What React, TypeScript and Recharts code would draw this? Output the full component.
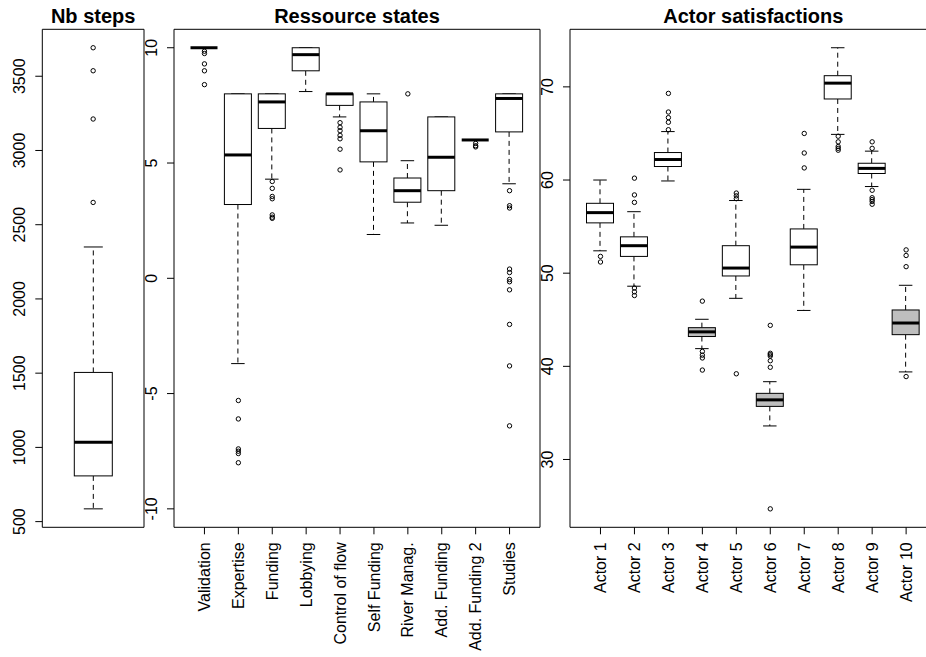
import React from "react";
import { Bar, ComposedChart, Scatter, XAxis, YAxis } from "recharts";

const FONT = '"Liberation Sans", Arial, Helvetica, sans-serif';
const HEIGHT = 657;
const PLOT_TOP = 29.3;
const X_AXIS_HEIGHT = 120;
const BOTTOM_MARGIN = 9.7;
const FRAME = 1; // size of the hidden top/right axes that draw the plot frame

// ---- Nb steps ----
const stepLabels = ["Nb steps"];
const stepLow = [586];
const stepQ1 = [808];
const stepMed = [1034];
const stepQ3 = [1505];
const stepHigh = [2350];
const stepOutliers = [[2650, 3212, 3537, 3692]];
const stepTicks = [500, 1000, 1500, 2000, 2500, 3000, 3500];

// ---- Ressource states ----
const resLabels = [
  "Validation",
  "Expertise",
  "Funding",
  "Lobbying",
  "Control of flow",
  "Self Funding",
  "River Manag.",
  "Add. Funding",
  "Add. Funding 2",
  "Studies",
];
const resLow = [10, -3.7, 4.3, 8.1, 7.0, 1.9, 2.4, 2.3, 6.0, 4.1];
const resQ1 = [10, 3.2, 6.5, 9.0, 7.5, 5.05, 3.3, 3.8, 6.0, 6.35];
const resMed = [10, 5.35, 7.65, 9.7, 8.0, 6.4, 3.8, 5.25, 6.0, 7.8];
const resQ3 = [10, 8.0, 8.0, 10, 8.0, 7.65, 4.35, 7.0, 6.0, 8.0];
const resHigh = [10, 8.0, 8.0, 10, 8.0, 8.0, 5.1, 7.0, 6.0, 8.0];
const resOutliers = [
  [9.85, 9.75, 9.3, 9.0, 8.4],
  [-5.3, -6.1, -7.4, -7.5, -7.6, -8.0],
  [4.2, 3.9, 3.55, 3.45, 2.75, 2.65, 2.6],
  [],
  [6.75, 6.55, 6.4, 6.2, 6.05, 5.6, 4.7],
  [],
  [8.0],
  [],
  [5.85, 5.75, 5.7],
  [3.8, 3.15, 3.05, 0.4, 0.25, -0.05, -0.15, -0.5, -2.0, -3.8, -6.4],
];
const resLimits = [-10, 10];
const resTicks = [-10, -5, 0, 5, 10];

// ---- Actor satisfactions ----
const actorLabels = [
  "Actor 1",
  "Actor 2",
  "Actor 3",
  "Actor 4",
  "Actor 5",
  "Actor 6",
  "Actor 7",
  "Actor 8",
  "Actor 9",
  "Actor 10",
];
const actLow = [52.4, 48.6, 59.9, 41.9, 47.3, 33.6, 46.0, 64.9, 59.3, 39.4];
const actQ1 = [55.4, 51.8, 61.45, 43.2, 49.7, 35.7, 50.9, 68.7, 60.7, 43.4];
const actMed = [56.5, 52.95, 62.2, 43.7, 50.55, 36.4, 52.8, 70.4, 61.25, 44.65];
const actQ3 = [57.5, 53.9, 62.95, 44.15, 52.95, 37.1, 54.75, 71.2, 61.8, 46.05];
const actHigh = [60.0, 56.6, 65.2, 45.05, 57.8, 38.35, 59.0, 74.2, 63.1, 48.7];
const actOutliers = [
  [51.8, 51.2],
  [60.2, 58.4, 57.6, 48.4, 48.0, 47.6],
  [69.3, 67.3, 66.7, 66.2, 65.4],
  [47.0, 41.6, 41.2, 40.9, 39.6],
  [58.6, 58.3, 58.0, 39.2],
  [44.4, 41.4, 41.25, 41.1, 40.6, 39.9, 24.7],
  [65.0, 62.9, 61.3],
  [64.7, 64.1, 63.6, 63.4, 63.2],
  [64.1, 63.4, 58.9, 58.1, 57.9, 57.7, 57.4],
  [52.5, 51.9, 50.7, 38.9],
];
const actTicks = [30, 40, 50, 60, 70];

// grey boxes in the actor panel
const shadedActors = ["Actor 4", "Actor 6", "Actor 10"];

type Row = {
  name: string;
  low: number;
  q1: number;
  med: number;
  q3: number;
  high: number;
  min: number;
  max: number;
};

function buildRows(
  labels: string[],
  low: number[],
  q1: number[],
  med: number[],
  q3: number[],
  high: number[],
  outliers: number[][]
): Row[] {
  return labels.map((name, i) => ({
    name,
    low: low[i],
    q1: q1[i],
    med: med[i],
    q3: q3[i],
    high: high[i],
    min: Math.min(low[i], ...outliers[i]),
    max: Math.max(high[i], ...outliers[i]),
  }));
}

function buildOutliers(labels: string[], outliers: number[][]) {
  return labels.flatMap((name, i) => outliers[i].map((v) => ({ name, v })));
}

// R's default 4% axis extension
function padRange(lo: number, hi: number): [number, number] {
  const d = (hi - lo) * 0.04;
  return [lo - d, hi + d];
}

function BoxShape(props: any) {
  const { x, y, width, height, payload, fill } = props;
  const span = payload.max - payload.min || 1;
  const py = (v: number) => y + ((payload.max - v) / span) * height;
  const cx = x + width / 2;
  const cap = width / 4;
  const top = py(payload.q3);
  const bottom = py(payload.q1);
  const hi = py(payload.high);
  const lo = py(payload.low);
  const md = py(payload.med);
  return (
    <g>
      <line x1={cx} x2={cx} y1={top} y2={hi} stroke="#000" strokeDasharray="5 4" />
      <line x1={cx} x2={cx} y1={bottom} y2={lo} stroke="#000" strokeDasharray="5 4" />
      <line x1={cx - cap} x2={cx + cap} y1={hi} y2={hi} stroke="#000" />
      <line x1={cx - cap} x2={cx + cap} y1={lo} y2={lo} stroke="#000" />
      <rect x={x} y={top} width={width} height={bottom - top} fill={fill} stroke="#000" />
      <line x1={x} x2={x + width} y1={md} y2={md} stroke="#000" strokeWidth={3} />
    </g>
  );
}

function YTick(props: any) {
  const { x, y, payload } = props;
  return (
    <text
      x={x}
      y={y}
      transform={`rotate(-90 ${x} ${y})`}
      textAnchor="middle"
      fontSize={16}
      fontFamily={FONT}
      fill="#000"
    >
      {payload.value}
    </text>
  );
}

function XTick(props: any) {
  const { x, y, payload } = props;
  return (
    <text
      x={x}
      y={y}
      dy="0.35em"
      transform={`rotate(-90 ${x} ${y})`}
      textAnchor="end"
      fontSize={16}
      fontFamily={FONT}
      fill="#000"
    >
      {payload.value}
    </text>
  );
}

type PanelProps = {
  title: string;
  left: number;
  width: number;
  axisWidth: number;
  rightMargin: number;
  pad: number;
  boxWidth: number;
  rows: Row[];
  outliers: { name: string; v: number }[];
  domain: [number, number];
  ticks: number[];
  showXTicks: boolean;
  shaded?: string[];
};

function Panel(p: PanelProps) {
  const plotWidth = p.width - p.axisWidth - p.rightMargin;
  const center = p.left + p.axisWidth + plotWidth / 2;
  return (
    <>
      <div
        style={{
          position: "absolute",
          left: center - 150,
          top: 5.8,
          width: 300,
          textAlign: "center",
          fontFamily: FONT,
          fontWeight: "bold",
          fontSize: 20,
          lineHeight: "20px",
          color: "#000",
        }}
      >
        {p.title}
      </div>
      <div style={{ position: "absolute", left: p.left, top: 0 }}>
        <ComposedChart
          width={p.width}
          height={HEIGHT}
          data={p.rows}
          margin={{
            top: PLOT_TOP - FRAME,
            right: p.rightMargin - FRAME,
            bottom: BOTTOM_MARGIN,
            left: 0,
          }}
        >
          <XAxis
            dataKey="name"
            type="category"
            allowDuplicatedCategory={false}
            height={X_AXIS_HEIGHT}
            padding={{ left: p.pad, right: p.pad }}
            interval={0}
            axisLine={{ stroke: "#000" }}
            tickLine={p.showXTicks ? { stroke: "#000" } : false}
            tickSize={7}
            tickMargin={8}
            tick={p.showXTicks ? XTick : false}
          />
          <XAxis
            xAxisId="top"
            orientation="top"
            dataKey="name"
            type="category"
            allowDuplicatedCategory={false}
            height={FRAME}
            axisLine={{ stroke: "#000" }}
            tickLine={false}
            tick={false}
          />
          <YAxis
            type="number"
            width={p.axisWidth}
            domain={p.domain}
            ticks={p.ticks}
            interval={0}
            axisLine={{ stroke: "#000" }}
            tickLine={{ stroke: "#000" }}
            tickSize={7}
            tickMargin={10}
            tick={YTick}
          />
          <YAxis
            yAxisId="right"
            orientation="right"
            type="number"
            width={FRAME}
            domain={p.domain}
            axisLine={{ stroke: "#000" }}
            tickLine={false}
            tick={false}
          />
          <Bar
            dataKey={(d: Row) => [d.min, d.max]}
            barSize={p.boxWidth}
            isAnimationActive={false}
            shape={(props: any) => (
              <BoxShape
                {...props}
                fill={p.shaded && p.shaded.includes(props.payload.name) ? "#bebebe" : "#fff"}
              />
            )}
          />
          <Scatter
            data={p.outliers}
            dataKey="v"
            isAnimationActive={false}
            shape={(props: any) => (
              <circle cx={props.cx} cy={props.cy} r={2.2} fill="none" stroke="#000" strokeWidth={1} />
            )}
          />
        </ComposedChart>
      </div>
    </>
  );
}

export default function App() {
  const stepRows = buildRows(stepLabels, stepLow, stepQ1, stepMed, stepQ3, stepHigh, stepOutliers);
  const resRows = buildRows(resLabels, resLow, resQ1, resMed, resQ3, resHigh, resOutliers);
  const actRows = buildRows(actorLabels, actLow, actQ1, actMed, actQ3, actHigh, actOutliers);

  const stepDomain = padRange(
    Math.min(...stepRows.map((r) => r.min)),
    Math.max(...stepRows.map((r) => r.max))
  );
  const resDomain = padRange(resLimits[0], resLimits[1]);
  const actDomain = padRange(
    Math.min(...actRows.map((r) => r.min)),
    Math.max(...actRows.map((r) => r.max))
  );

  return (
    <div
      style={{
        position: "absolute",
        left: 0,
        top: 0,
        width: 926,
        height: HEIGHT,
        overflow: "hidden",
        background: "#fff",
      }}
    >
      <Panel
        title="Nb steps"
        left={0}
        width={148}
        axisWidth={42.3}
        rightMargin={4}
        pad={0}
        boxWidth={38}
        rows={stepRows}
        outliers={buildOutliers(stepLabels, stepOutliers)}
        domain={stepDomain}
        ticks={stepTicks}
        showXTicks={false}
      />
      <Panel
        title="Ressource states"
        left={140}
        width={404}
        axisWidth={34}
        rightMargin={4}
        pad={13.5}
        boxWidth={27}
        rows={resRows}
        outliers={buildOutliers(resLabels, resOutliers)}
        domain={resDomain}
        ticks={resTicks}
        showXTicks={true}
      />
      <Panel
        title="Actor satisfactions"
        left={540}
        width={400}
        axisWidth={30}
        rightMargin={3.4}
        pad={13.5}
        boxWidth={27}
        rows={actRows}
        outliers={buildOutliers(actorLabels, actOutliers)}
        domain={actDomain}
        ticks={actTicks}
        showXTicks={true}
        shaded={shadedActors}
      />
    </div>
  );
}
